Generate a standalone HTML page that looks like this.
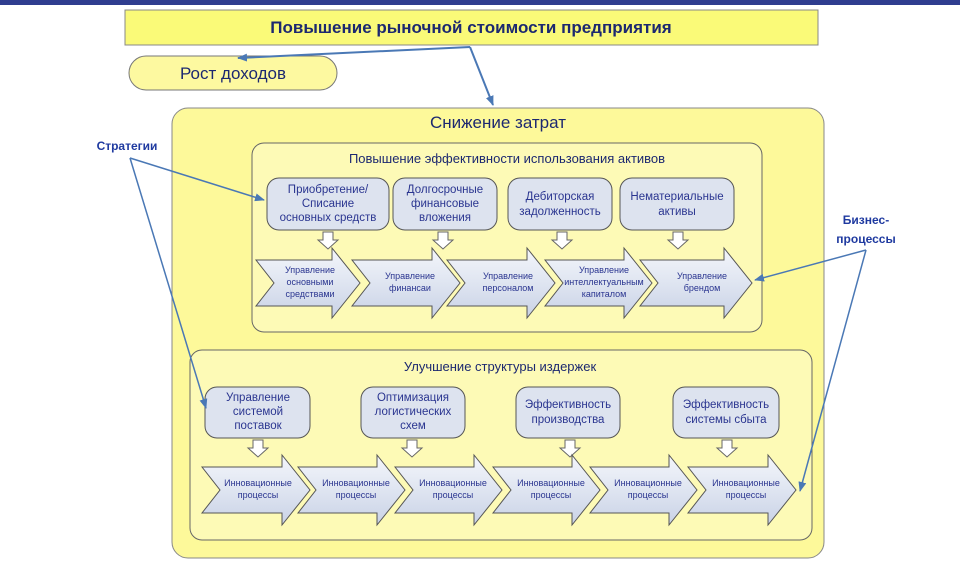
<!DOCTYPE html>
<html><head><meta charset="utf-8"><style>
body{margin:0;background:#fff;}
svg text{font-family:"Liberation Sans",sans-serif;}
</style></head><body>
<svg width="960" height="560" viewBox="0 0 960 560" xmlns="http://www.w3.org/2000/svg">
<defs>
<linearGradient id="cg" x1="0" y1="0" x2="0" y2="1">
<stop offset="0" stop-color="#f4f6fb"/><stop offset="0.5" stop-color="#dfe5f1"/><stop offset="1" stop-color="#c9d2e6"/>
</linearGradient>
<marker id="ah" markerWidth="10" markerHeight="8" refX="9" refY="4" orient="auto" markerUnits="userSpaceOnUse">
<path d="M0,0 L10,4 L0,8 z" fill="#4a78b5"/>
</marker>
<g id="dn"><path d="M-5,0 h10 v8 h5 l-10,9 l-10,-9 h5 z" fill="#fff" stroke="#666" stroke-width="1"/></g>
</defs>
<rect x="0" y="0" width="960" height="5" fill="#2f3d8f"/>
<rect x="125" y="10" width="693" height="35" fill="#fafa78" stroke="#888" stroke-width="1"/>
<text x="471" y="33" font-size="17" font-weight="bold" fill="#1c2870" text-anchor="middle">Повышение рыночной стоимости предприятия</text>
<rect x="129" y="56" width="208" height="34" rx="17" fill="#fdf9a0" stroke="#777"/>
<text x="233" y="79" font-size="17" fill="#1c2870" text-anchor="middle">Рост доходов</text>
<line x1="470" y1="47" x2="238" y2="58" stroke="#4a78b5" stroke-width="2" marker-end="url(#ah)"/>
<line x1="470" y1="47" x2="493" y2="105" stroke="#4a78b5" stroke-width="2" marker-end="url(#ah)"/>

<rect x="172" y="108" width="652" height="450" rx="16" fill="#fdf99a" stroke="#888"/>
<text x="498" y="128" font-size="17" fill="#1c2870" text-anchor="middle">Снижение затрат</text>

<rect x="252" y="143" width="510" height="189" rx="12" fill="#fdfab6" stroke="#666"/>
<text x="507" y="163" font-size="13" fill="#1c2870" text-anchor="middle">Повышение эффективности использования активов</text>
<g font-size="11.5" fill="#2a3590" text-anchor="middle">
<rect x="267" y="178" width="122" height="52" rx="12" fill="#dde3ef" stroke="#555"/>
<text x="328" y="193">Приобретение/</text><text x="328" y="207">Списание</text><text x="328" y="221">основных средств</text>
<rect x="393" y="178" width="104" height="52" rx="12" fill="#dde3ef" stroke="#555"/>
<text x="445" y="193">Долгосрочные</text><text x="445" y="207">финансовые</text><text x="445" y="221">вложения</text>
<rect x="508" y="178" width="104" height="52" rx="12" fill="#dde3ef" stroke="#555"/>
<text x="560" y="200">Дебиторская</text><text x="560" y="215">задолженность</text>
<rect x="620" y="178" width="114" height="52" rx="12" fill="#dde3ef" stroke="#555"/>
<text x="677" y="200">Нематериальные</text><text x="677" y="215">активы</text>
</g>
<use href="#dn" x="328" y="232"/><use href="#dn" x="443" y="232"/><use href="#dn" x="562" y="232"/><use href="#dn" x="678" y="232"/>
<g stroke="#555" fill="url(#cg)">
<path d="M256,260 h76 v-12 l28,35 l-28,35 v-12 h-76 l18,-23 z"/>
<path d="M352,260 h80 v-12 l28,35 l-28,35 v-12 h-80 l18,-23 z"/>
<path d="M447,260 h80 v-12 l28,35 l-28,35 v-12 h-80 l18,-23 z"/>
<path d="M545,260 h79 v-12 l28,35 l-28,35 v-12 h-79 l18,-23 z"/>
<path d="M640,260 h84 v-12 l28,35 l-28,35 v-12 h-84 l18,-23 z"/>
</g>
<g font-size="9" fill="#2a3590" text-anchor="middle">
<text x="310" y="273">Управление</text><text x="310" y="285">основными</text><text x="310" y="297">средствами</text>
<text x="410" y="279">Управление</text><text x="410" y="291">финансаи</text>
<text x="508" y="279">Управление</text><text x="508" y="291">персоналом</text>
<text x="604" y="273">Управление</text><text x="604" y="285">интеллектуальным</text><text x="604" y="297">капиталом</text>
<text x="702" y="279">Управление</text><text x="702" y="291">брендом</text>
</g>

<rect x="190" y="350" width="622" height="190" rx="12" fill="#fdfab6" stroke="#666"/>
<text x="500" y="371" font-size="13" fill="#1c2870" text-anchor="middle">Улучшение структуры издержек</text>
<g font-size="11.5" fill="#2a3590" text-anchor="middle">
<rect x="205" y="387" width="105" height="51" rx="12" fill="#dde3ef" stroke="#555"/>
<text x="258" y="401">Управление</text><text x="258" y="415">системой</text><text x="258" y="429">поставок</text>
<rect x="361" y="387" width="104" height="51" rx="12" fill="#dde3ef" stroke="#555"/>
<text x="413" y="401">Оптимизация</text><text x="413" y="415">логистических</text><text x="413" y="429">схем</text>
<rect x="516" y="387" width="104" height="51" rx="12" fill="#dde3ef" stroke="#555"/>
<text x="568" y="408">Эффективность</text><text x="568" y="423">производства</text>
<rect x="673" y="387" width="106" height="51" rx="12" fill="#dde3ef" stroke="#555"/>
<text x="726" y="408">Эффективность</text><text x="726" y="423">системы сбыта</text>
</g>
<use href="#dn" x="258" y="440"/><use href="#dn" x="412" y="440"/><use href="#dn" x="570" y="440"/><use href="#dn" x="727" y="440"/>
<g stroke="#555" fill="url(#cg)">
<path d="M202,467 h80 v-12 l28,35 l-28,35 v-12 h-80 l18,-23 z"/>
<path d="M298,467 h79 v-12 l28,35 l-28,35 v-12 h-79 l18,-23 z"/>
<path d="M395,467 h79 v-12 l28,35 l-28,35 v-12 h-79 l18,-23 z"/>
<path d="M493,467 h79 v-12 l28,35 l-28,35 v-12 h-79 l18,-23 z"/>
<path d="M590,467 h79 v-12 l28,35 l-28,35 v-12 h-79 l18,-23 z"/>
<path d="M688,467 h80 v-12 l28,35 l-28,35 v-12 h-80 l18,-23 z"/>
</g>
<g font-size="9" fill="#2a3590" text-anchor="middle">
<text x="258" y="486">Инновационные</text><text x="258" y="498">процессы</text>
<text x="356" y="486">Инновационные</text><text x="356" y="498">процессы</text>
<text x="453" y="486">Инновационные</text><text x="453" y="498">процессы</text>
<text x="551" y="486">Инновационные</text><text x="551" y="498">процессы</text>
<text x="648" y="486">Инновационные</text><text x="648" y="498">процессы</text>
<text x="746" y="486">Инновационные</text><text x="746" y="498">процессы</text>
</g>

<text x="127" y="150" font-size="12" font-weight="bold" fill="#1f3aa0" text-anchor="middle">Стратегии</text>
<line x1="130" y1="158" x2="264" y2="200" stroke="#4a78b5" stroke-width="1.5" marker-end="url(#ah)"/>
<line x1="130" y1="158" x2="206" y2="408" stroke="#4a78b5" stroke-width="1.5" marker-end="url(#ah)"/>
<text x="866" y="224" font-size="12" font-weight="bold" fill="#1f3aa0" text-anchor="middle">Бизнес-</text>
<text x="866" y="243" font-size="12" font-weight="bold" fill="#1f3aa0" text-anchor="middle">процессы</text>
<line x1="866" y1="250" x2="755" y2="280" stroke="#4a78b5" stroke-width="1.5" marker-end="url(#ah)"/>
<line x1="866" y1="250" x2="800" y2="491" stroke="#4a78b5" stroke-width="1.5" marker-end="url(#ah)"/>
</svg>
</body></html>
